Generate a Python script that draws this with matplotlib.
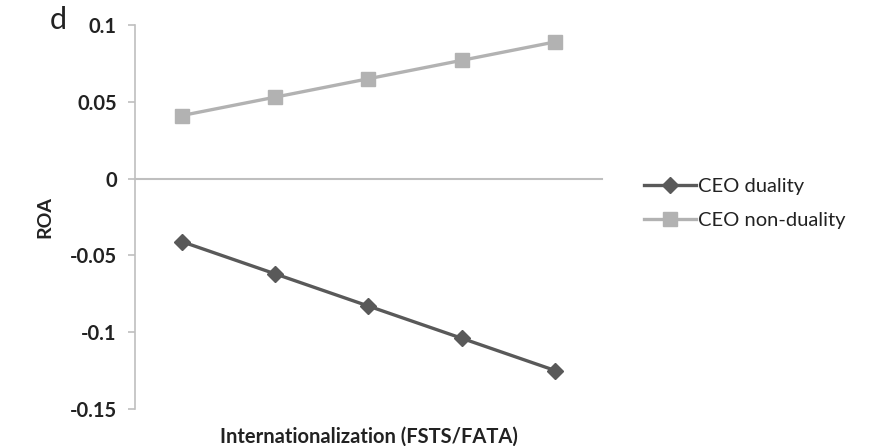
import matplotlib
matplotlib.use("Agg")
import matplotlib.pyplot as plt

categories = ["1", "2", "3", "4", "5"]
duality = [-0.041, -0.062, -0.083, -0.104, -0.125]
non_duality = [0.041, 0.053, 0.065, 0.077, 0.089]
yticks = [-0.15, -0.1, -0.05, 0, 0.05, 0.1]
ytick_labels = ["-0.15", "-0.1", "-0.05", "0", "0.05", "0.1"]

plt.rcParams['font.family'] = ['Lato', 'DejaVu Sans']

fig = plt.figure(figsize=(8.7, 4.46), dpi=100)
ax = fig.add_axes([0.155, 0.083, 0.537, 0.861])

x = range(len(categories))
ax.plot(x, duality, color='#595959', lw=2.4, marker='D', ms=8, label='CEO duality')
ax.plot(x, non_duality, color='#b2b2b2', lw=2.4, marker='s', ms=10, label='CEO non-duality')

ax.set_xlim(-0.5, len(categories) - 0.5)
ax.set_ylim(-0.15, 0.1)
ax.set_yticks(yticks)
ax.set_yticklabels(ytick_labels, fontsize=14.5, fontweight='bold', color='#222222')
ax.set_xticks([])

for s in ['top', 'right']:
    ax.spines[s].set_visible(False)
ax.spines['left'].set_color('#bfbfbf')
ax.spines['left'].set_linewidth(1.2)
ax.spines['bottom'].set_position(('data', 0))
ax.spines['bottom'].set_color('#bfbfbf')
ax.spines['bottom'].set_linewidth(1.5)
ax.tick_params(axis='y', length=5, color='#bfbfbf', width=1.2, pad=8)

ax.set_ylabel('ROA', fontsize=14, fontweight='bold', color='#222222', labelpad=12)
fig.text(0.155 + 0.537 / 2, 0.022, 'Internationalization (FSTS/FATA)', fontsize=14.5,
         fontweight='bold', color='#222222', ha='center', va='center')

fig.text(0.057, 0.955, 'd', fontsize=22, color='#222222', ha='left', va='center')

leg = ax.legend(loc='center left', bbox_to_anchor=(1.05, 0.535), frameon=False,
                fontsize=14.5, handlelength=2.6, handletextpad=0.1, labelspacing=0.8)
for t in leg.get_texts():
    t.set_color('#222222')

fig.savefig('out.png', dpi=100)
